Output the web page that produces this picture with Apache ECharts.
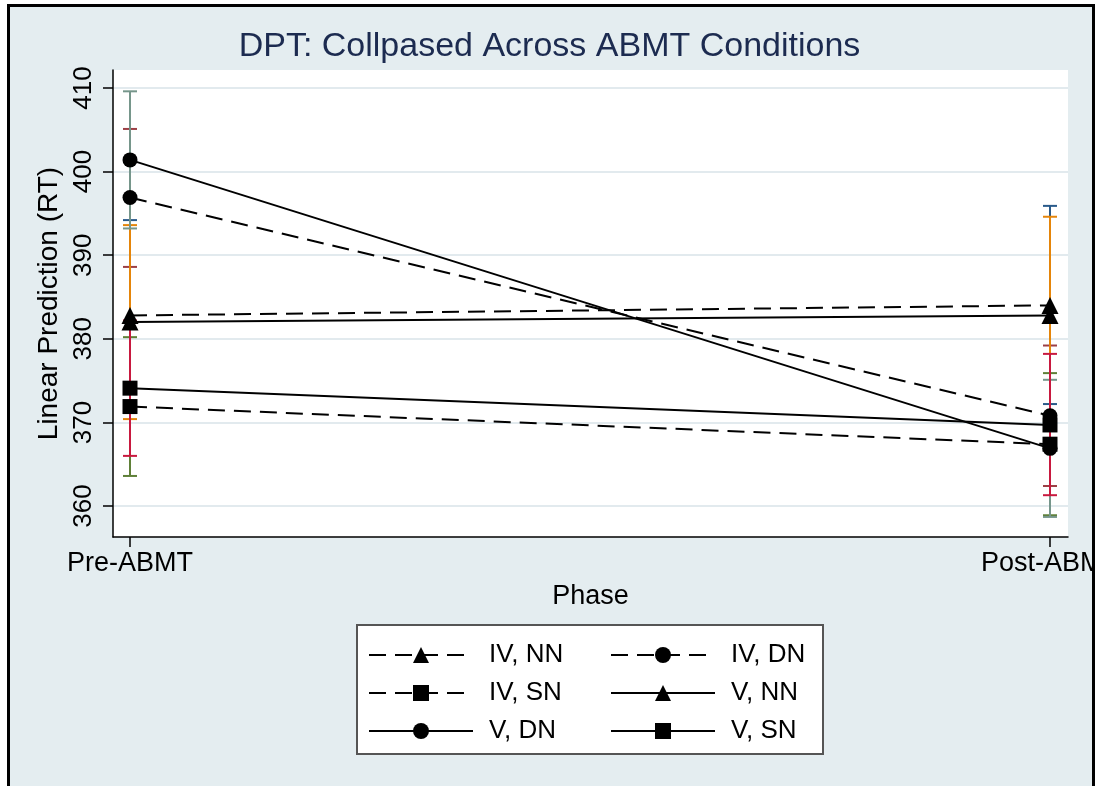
<!DOCTYPE html>
<html>
<head>
<meta charset="utf-8">
<script src="https://cdn.jsdelivr.net/npm/echarts@6/dist/echarts.min.js"></script>
<style>
  html, body { margin: 0; padding: 0; background: #fff; overflow: hidden; }
  #frame {
    position: absolute; left: 7px; top: 4px;
    width: 1082px; height: 800px;
    border: 3px solid #000; border-bottom: none;
    overflow: hidden; background: #e4edf0;
  }
  #chart { position: absolute; left: -10px; top: -7px; width: 1099px; height: 786px; }
</style>
</head>
<body>
<div id="frame"><div id="chart"></div></div>
<script>
// Phases on the horizontal axis
const categories = ['Pre-ABMT', 'Post-ABMT'];
// Group names (IV / V crossed with NN / DN / SN)
const seriesNames = ['IV, NN', 'IV, DN', 'IV, SN', 'V, NN', 'V, DN', 'V, SN'];
// Predicted RT per group at each phase
const preMeans  = [382.8, 396.9, 371.9, 382.0, 401.4, 374.1];
const postMeans = [384.0, 370.8, 367.4, 382.8, 366.9, 369.7];
// Confidence interval bounds
const preLower  = [371.4, 388.6, 363.6, 370.4, 393.2, 366.0];
const preUpper  = [394.2, 405.1, 380.2, 393.6, 409.6, 382.2];
const postLower = [372.2, 362.4, 358.9, 371.0, 358.7, 361.3];
const postUpper = [395.9, 379.2, 375.9, 394.6, 375.1, 378.2];
// Y axis tick labels
const yTicks = [360, 370, 380, 390, 400, 410];

const FONT = '"Liberation Sans", Arial, Helvetica, sans-serif';
const ciColors = ['#2a5a8a', '#9c3f45', '#5f8038', '#e5850a', '#76968b', '#c8193f'];
const symbols = ['triangle', 'circle', 'rect', 'triangle', 'circle', 'rect'];
const dashed = [true, true, true, false, false, false];

// Capped vertical interval for one group at one phase
function ciRender(params, api) {
  const lo = api.coord([api.value(0), api.value(1)]);
  const hi = api.coord([api.value(0), api.value(2)]);
  const half = 7;
  const style = { stroke: api.visual('color'), lineWidth: 2 };
  return {
    type: 'group',
    children: [
      { type: 'line', shape: { x1: lo[0], y1: lo[1], x2: hi[0], y2: hi[1] }, style },
      { type: 'line', shape: { x1: lo[0] - half, y1: lo[1], x2: lo[0] + half, y2: lo[1] }, style },
      { type: 'line', shape: { x1: hi[0] - half, y1: hi[1], x2: hi[0] + half, y2: hi[1] }, style }
    ]
  };
}

const series = [];
seriesNames.forEach((name, i) => {
  series.push({
    type: 'custom',
    name: name + ' CI',
    renderItem: ciRender,
    itemStyle: { color: ciColors[i] },
    encode: { x: 0, y: [1, 2] },
    data: [[0, preLower[i], preUpper[i]], [1, postLower[i], postUpper[i]]],
    z: 2,
    silent: true
  });
});
seriesNames.forEach((name, i) => {
  series.push({
    type: 'line',
    name: name,
    data: [[0, preMeans[i]], [1, postMeans[i]]],
    symbol: symbols[i],
    symbolSize: symbols[i] === 'triangle' ? 17 : 15,
    lineStyle: { color: '#000', width: 2, type: dashed[i] ? [17, 9] : 'solid' },
    itemStyle: { color: '#000' },
    z: 3
  });
});

const legendCommon = {
  orient: 'vertical',
  top: 642,
  itemWidth: 104,
  itemHeight: 20,
  itemGap: 12,
  padding: 0,
  selectedMode: false,
  textStyle: { fontSize: 26, lineHeight: 20, color: '#000', fontFamily: FONT, padding: [0, 0, 0, 11] }
};

const option = {
  animation: false,
  backgroundColor: 'transparent',
  title: {
    text: 'DPT: Collpased Across ABMT Conditions',
    left: 'center',
    top: 30,
    padding: 0,
    textStyle: { fontSize: 34, lineHeight: 34, fontWeight: 'normal', color: '#1c2b50', fontFamily: FONT }
  },
  grid: {
    left: 113, top: 70, right: 31, bottom: 249,
    outerBoundsMode: 'none',
    containLabel: false,
    show: true, backgroundColor: '#fff', borderWidth: 0
  },
  xAxis: {
    type: 'value',
    min: -0.01848, max: 1.01957,
    axisLine: { show: true, onZero: false, lineStyle: { color: '#000', width: 1.5 } },
    axisTick: { show: true, customValues: [0, 1], length: 10, lineStyle: { color: '#000', width: 1.5 } },
    axisLabel: {
      customValues: [0, 1],
      formatter: v => categories[Math.round(v)],
      margin: 13, fontSize: 27, color: '#000', fontFamily: FONT
    },
    splitLine: { show: false },
    name: 'Phase', nameLocation: 'middle', nameGap: 46,
    nameTextStyle: { fontSize: 27, color: '#000', fontFamily: FONT }
  },
  yAxis: {
    type: 'value',
    min: 356.3, max: 412.15,
    axisLine: { show: true, onZero: false, lineStyle: { color: '#000', width: 1.5 } },
    axisTick: { show: true, customValues: yTicks, length: 10, lineStyle: { color: '#000', width: 1.5 } },
    axisLabel: { customValues: yTicks, rotate: 90, margin: 16, fontSize: 26, color: '#000', fontFamily: FONT },
    splitLine: { show: true, lineStyle: { color: '#e2eaee', width: 2 } },
    name: 'Linear Prediction (RT)', nameLocation: 'middle', nameRotate: 90, nameGap: 50,
    nameTextStyle: { fontSize: 28, color: '#000', fontFamily: FONT }
  },
  legend: [
    Object.assign({}, legendCommon, { left: 368, data: [seriesNames[0], seriesNames[2], seriesNames[4]] }),
    Object.assign({}, legendCommon, { left: 610, data: [seriesNames[1], seriesNames[3], seriesNames[5]] })
  ],
  graphic: [{
    type: 'rect', z: 1,
    shape: { x: 357, y: 625, width: 466, height: 129 },
    style: { fill: '#fff', stroke: '#555', lineWidth: 2 }
  }],
  series: series
};

const chart = echarts.init(document.getElementById('chart'), null, { renderer: 'canvas' });
chart.setOption(option);
</script>
</body>
</html>
